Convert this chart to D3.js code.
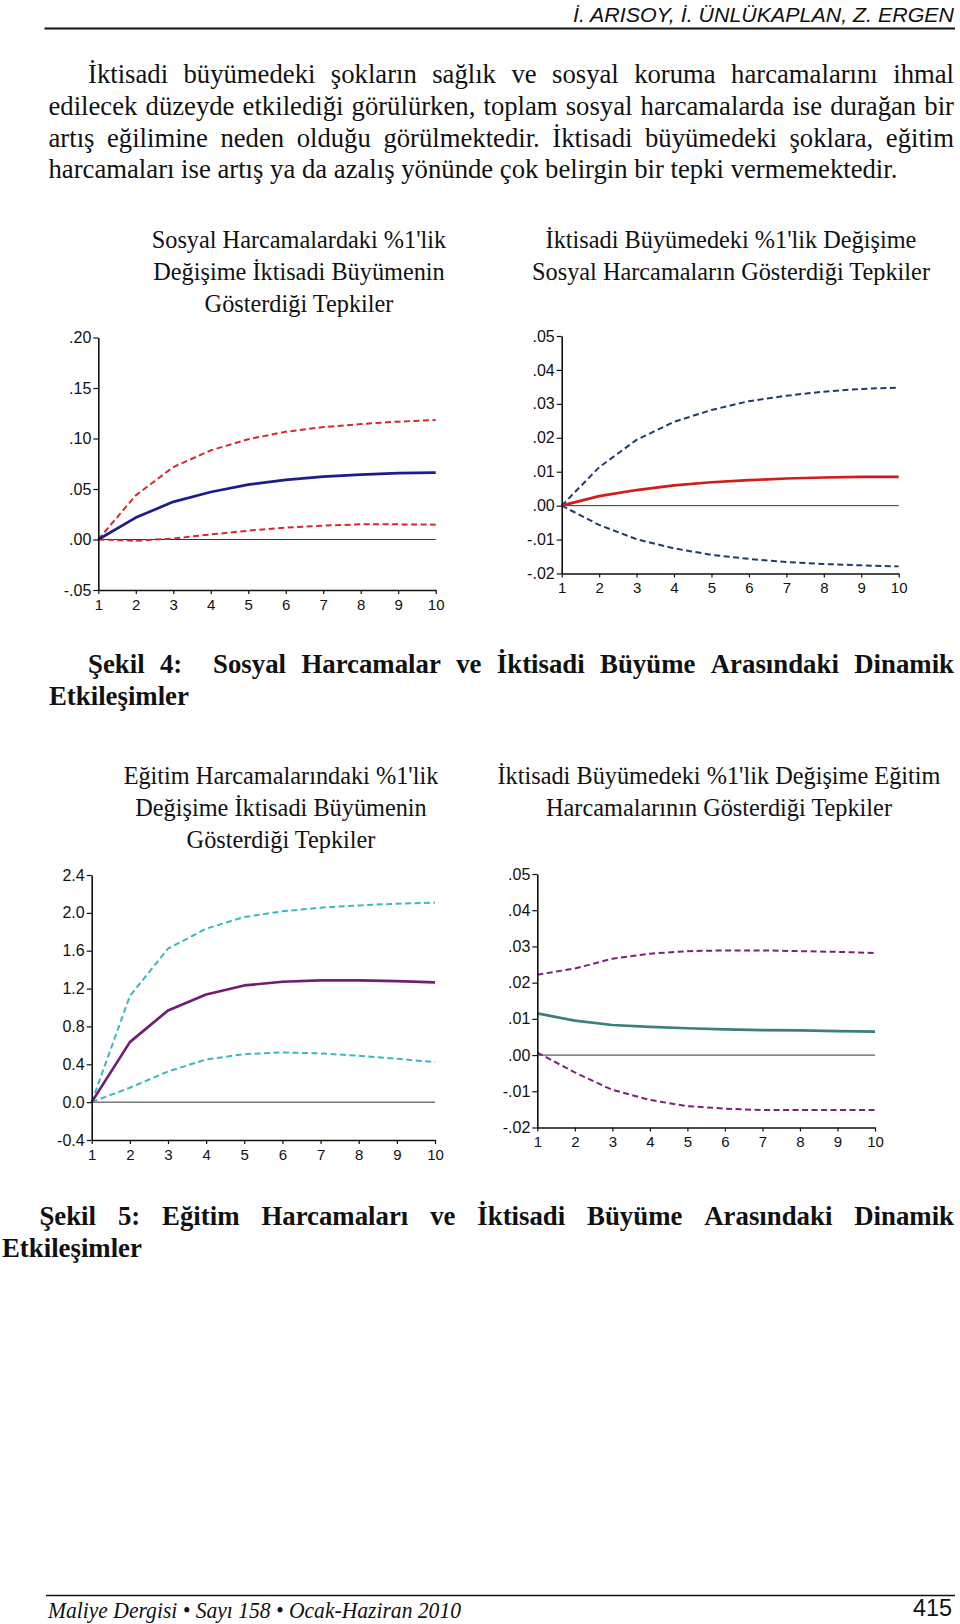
<!DOCTYPE html>
<html>
<head>
<meta charset="utf-8">
<script src="https://cdn.jsdelivr.net/npm/d3@7"></script>
<style>
  body { margin: 0; background: #fff; }
  svg { display: block; }
  .serif { font-family: "Liberation Serif", "Times New Roman", serif; fill: #111; }
  .para { font-size: 26.7px; }
  .ptitle { font-size: 24.3px; }
  .caption { font-size: 26.8px; font-weight: bold; }
  .tick text { font-family: "Liberation Sans", Arial, sans-serif; font-size: 15px; fill: #111; }
  .yax .tick text { font-size: 16px; }
</style>
</head>
<body>
<svg id="page"></svg>
<script>
const periods = [1, 2, 3, 4, 5, 6, 7, 8, 9, 10];

// Şekil 4 sol: sosyal harcamalardaki şoka büyümenin tepkisi (+ güven bantları)
const sosyalToBuyume    = [0, 0.0217, 0.0373, 0.0470, 0.0543, 0.0590, 0.0623, 0.0643, 0.0657, 0.0663];
const sosyalToBuyumeUst = [0, 0.0437, 0.0717, 0.0883, 0.0993, 0.1067, 0.1113, 0.1143, 0.1167, 0.1183];
const sosyalToBuyumeAlt = [0, -0.0013, 0.0010, 0.0050, 0.0087, 0.0117, 0.0137, 0.0150, 0.0150, 0.0147];

// Şekil 4 sağ: büyümedeki şoka sosyal harcamaların tepkisi
const buyumeToSosyal    = [0, 0.0028, 0.0046, 0.0060, 0.0069, 0.0075, 0.0080, 0.0083, 0.0085, 0.0085];
const buyumeToSosyalUst = [0, 0.0113, 0.0194, 0.0247, 0.0282, 0.0308, 0.0324, 0.0336, 0.0344, 0.0348];
const buyumeToSosyalAlt = [0, -0.0057, -0.0099, -0.0126, -0.0145, -0.0157, -0.0166, -0.0172, -0.0176, -0.0179];

// Şekil 5 sol: eğitim harcamalarındaki şoka büyümenin tepkisi
const egitimToBuyume    = [0, 0.634, 0.969, 1.138, 1.233, 1.272, 1.286, 1.286, 1.279, 1.265];
const egitimToBuyumeUst = [0, 1.121, 1.621, 1.833, 1.956, 2.016, 2.055, 2.079, 2.097, 2.107];
const egitimToBuyumeAlt = [0, 0.152, 0.324, 0.451, 0.507, 0.525, 0.515, 0.490, 0.458, 0.423];

// Şekil 5 sağ: büyümedeki şoka eğitim harcamalarının tepkisi
const buyumeToEgitim    = [0.0115, 0.0095, 0.0083, 0.0078, 0.0074, 0.0071, 0.0069, 0.0068, 0.0066, 0.0065];
const buyumeToEgitimUst = [0.0222, 0.0239, 0.0266, 0.0280, 0.0287, 0.0289, 0.0289, 0.0287, 0.0285, 0.0282];
const buyumeToEgitimAlt = [0.0007, -0.0048, -0.0096, -0.0124, -0.0141, -0.0148, -0.0152, -0.0152, -0.0152, -0.0152];

const ticksSosyalBuyume = [-0.05, 0, 0.05, 0.10, 0.15, 0.20];
const ticksBuyumeSosyal = [-0.02, -0.01, 0, 0.01, 0.02, 0.03, 0.04, 0.05];
const ticksEgitimBuyume = [-0.4, 0, 0.4, 0.8, 1.2, 1.6, 2.0, 2.4];
const ticksBuyumeEgitim = [-0.02, -0.01, 0, 0.01, 0.02, 0.03, 0.04, 0.05];

const headerText = "İ. ARISOY, İ. ÜNLÜKAPLAN, Z. ERGEN";
const paragraph = [
  "İktisadi büyümedeki şokların sağlık ve sosyal koruma harcamalarını ihmal",
  "edilecek düzeyde etkilediği görülürken, toplam sosyal harcamalarda ise durağan bir",
  "artış eğilimine neden olduğu görülmektedir. İktisadi büyümedeki şoklara, eğitim",
  "harcamaları ise artış ya da azalış yönünde çok belirgin bir tepki vermemektedir."
];
const caption4 = ["Şekil 4:  Sosyal Harcamalar ve İktisadi Büyüme Arasındaki Dinamik", "Etkileşimler"];
const caption5 = ["Şekil 5: Eğitim Harcamaları ve İktisadi Büyüme Arasındaki Dinamik", "Etkileşimler"];
const footerText = "Maliye Dergisi • Sayı 158 • Ocak-Haziran 2010";
const pageNo = "415";

const W = 960, H = 1624;
const svg = d3.select("#page").attr("width", W).attr("height", H);

// EViews tarzı etiketler: baştaki sıfır yok, düz tire
const fmt2 = d => d3.format(".2f")(d).replace("−", "-").replace("0.", ".");
const fmt1 = d => d3.format(".1f")(d).replace("−", "-");

const panels = [
  { title: ["Sosyal Harcamalardaki %1'lik", "Değişime İktisadi Büyümenin", "Gösterdiği Tepkiler"],
    tx: 299, ty: 248, x0: 98.3, x1: 435.7, y0: 590, y1: 337.5,
    ticks: ticksSosyalBuyume, fmt: fmt2,
    mid: sosyalToBuyume, up: sosyalToBuyumeUst, lo: sosyalToBuyumeAlt,
    solid: "#1c1c8c", dash: "#d42a2a" },
  { title: ["İktisadi Büyümedeki %1'lik Değişime", "Sosyal Harcamaların Gösterdiği Tepkiler"],
    tx: 731, ty: 248, x0: 561.7, x1: 898.7, y0: 573.5, y1: 336,
    ticks: ticksBuyumeSosyal, fmt: fmt2,
    mid: buyumeToSosyal, up: buyumeToSosyalUst, lo: buyumeToSosyalAlt,
    solid: "#d01c1c", dash: "#1f3a6c" },
  { title: ["Eğitim Harcamalarındaki %1'lik", "Değişime İktisadi Büyümenin", "Gösterdiği Tepkiler"],
    tx: 281, ty: 784, x0: 91.7, x1: 435, y0: 1140, y1: 875,
    ticks: ticksEgitimBuyume, fmt: fmt1,
    mid: egitimToBuyume, up: egitimToBuyumeUst, lo: egitimToBuyumeAlt,
    solid: "#721c74", dash: "#3db7be" },
  { title: ["İktisadi Büyümedeki %1'lik Değişime Eğitim", "Harcamalarının Gösterdiği Tepkiler"],
    tx: 719, ty: 784, x0: 537.3, x1: 875, y0: 1127.5, y1: 874,
    ticks: ticksBuyumeEgitim, fmt: fmt2,
    mid: buyumeToEgitim, up: buyumeToEgitimUst, lo: buyumeToEgitimAlt,
    solid: "#3d7f7d", dash: "#7d1f7d" }
];

// satır dizgisi: kelimeleri tek tek yerleştir, istenirse iki yana yasla
// (çift boşluk çift aralık sayılır)
function textLine(g, str, xa, xb, y, cls, justify) {
  const parts = str.split(" ");
  const words = [], weights = [];
  parts.forEach(w => {
    if (w === "") { weights[weights.length - 1] += 1; }
    else { words.push(w); weights.push(1); }
  });
  weights.pop();
  const nodes = words.map(w => g.append("text").attr("class", cls).attr("y", y).text(w));
  const widths = nodes.map(n => n.node().getComputedTextLength());
  const probe = g.append("text").attr("class", cls).text("a a");
  const probe2 = g.append("text").attr("class", cls).text("aa");
  const space = probe.node().getComputedTextLength() - probe2.node().getComputedTextLength();
  probe.remove(); probe2.remove();
  const unit = justify ? (xb - xa - d3.sum(widths)) / d3.sum(weights) : space;
  let x = xa;
  nodes.forEach((n, i) => { n.attr("x", x); x += widths[i] + unit * (weights[i] || 0); });
}

// üst bilgi
svg.append("text")
  .attr("x", 954).attr("y", 22)
  .attr("text-anchor", "end")
  .attr("textLength", 381).attr("lengthAdjust", "spacingAndGlyphs")
  .style("font-family", "'Liberation Sans', Arial, sans-serif")
  .style("font-style", "italic").style("font-size", "21px").style("fill", "#111")
  .text(headerText);
svg.append("line").attr("x1", 44.5).attr("x2", 955).attr("y1", 28.5).attr("y2", 28.5)
  .attr("stroke", "#111").attr("stroke-width", 2);

const body = svg.append("g");
paragraph.forEach((line, i) => {
  const xa = i == 0 ? 88 : 48.5;
  textLine(body, line, xa, 954, 83 + i * 31.8, "serif para", i < paragraph.length - 1);
});

// alt yazılar
const cap = svg.append("g");
textLine(cap, caption4[0], 88, 954, 673, "serif caption", true);
textLine(cap, caption4[1], 49, 954, 705, "serif caption", false);
textLine(cap, caption5[0], 39.4, 954, 1225, "serif caption", true);
textLine(cap, caption5[1], 2, 954, 1257, "serif caption", false);

// grafikler
panels.forEach(p => {
  const g = svg.append("g");

  g.selectAll("text.ptitle").data(p.title).enter().append("text")
    .attr("class", "serif ptitle")
    .attr("x", p.tx).attr("y", (d, i) => p.ty + i * 32)
    .attr("text-anchor", "middle")
    .text(d => d);

  const x = d3.scaleLinear().domain([1, 10]).range([p.x0, p.x1]);
  const y = d3.scaleLinear().domain(d3.extent(p.ticks)).range([p.y0, p.y1]);

  // sıfır çizgisi
  g.append("line")
    .attr("x1", p.x0).attr("x2", p.x1).attr("y1", y(0)).attr("y2", y(0))
    .attr("stroke", "#333").attr("stroke-width", 1);

  const line = d3.line().x((d, i) => x(periods[i])).y(d => y(d));

  [[p.up, p.dash, true], [p.lo, p.dash, true], [p.mid, p.solid, false]].forEach(s => {
    g.append("path")
      .datum(s[0])
      .attr("d", line)
      .attr("fill", "none")
      .attr("stroke", s[1])
      .attr("stroke-width", s[2] ? 2 : 2.7)
      .attr("stroke-dasharray", s[2] ? "6,3.5" : null)
      .attr("stroke-linejoin", "round");
  });

  const yAxis = g.append("g").attr("class", "yax").attr("transform", `translate(${p.x0},0)`)
    .call(d3.axisLeft(y).tickValues(p.ticks).tickFormat(p.fmt).tickSize(5).tickPadding(2).tickSizeOuter(0));
  const xAxis = g.append("g").attr("transform", `translate(0,${p.y0})`)
    .call(d3.axisBottom(x).tickValues(periods).tickFormat(d3.format("d")).tickSize(4).tickPadding(5).tickSizeOuter(0));

  [yAxis, xAxis].forEach(a => {
    a.select(".domain").attr("stroke", "#111").attr("stroke-width", 1.6);
    a.selectAll(".tick line").attr("stroke", "#111").attr("stroke-width", 1.2);
  });
});

// alt bilgi
svg.append("line").attr("x1", 46).attr("x2", 955).attr("y1", 1595.5).attr("y2", 1595.5)
  .attr("stroke", "#111").attr("stroke-width", 1.6);
svg.append("text")
  .attr("x", 48).attr("y", 1618)
  .attr("textLength", 413).attr("lengthAdjust", "spacingAndGlyphs")
  .attr("class", "serif")
  .style("font-style", "italic").style("font-size", "23px")
  .text(footerText);
svg.append("text")
  .attr("x", 952).attr("y", 1616)
  .attr("text-anchor", "end")
  .attr("textLength", 39).attr("lengthAdjust", "spacingAndGlyphs")
  .style("font-family", "'Liberation Sans', Arial, sans-serif")
  .style("font-size", "24px").style("fill", "#111")
  .text(pageNo);
</script>
</body>
</html>
